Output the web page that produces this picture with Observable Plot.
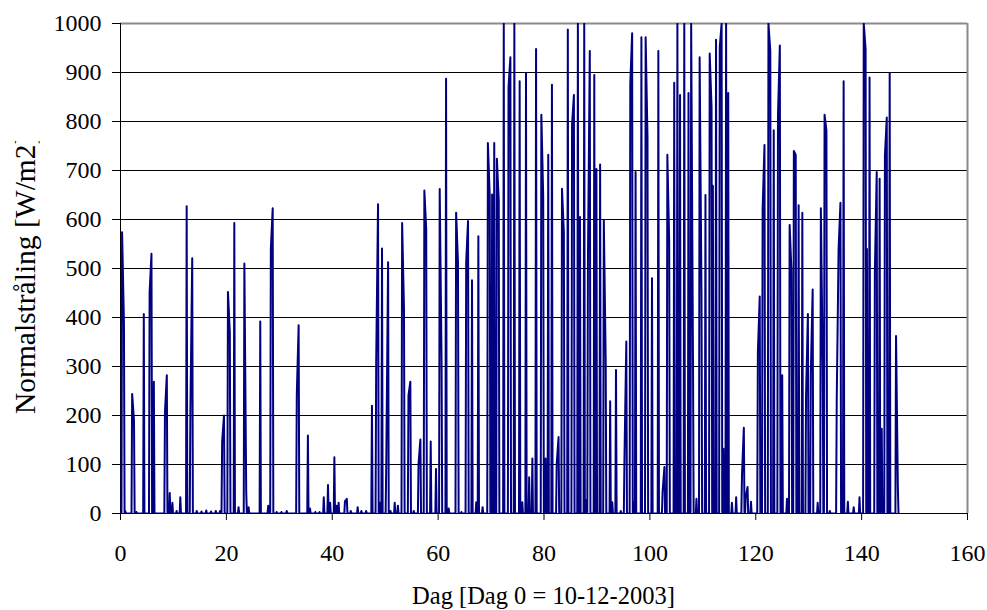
<!DOCTYPE html>
<html>
<head>
<meta charset="utf-8">
<script src="https://cdn.jsdelivr.net/npm/d3@7"></script>
<script src="https://cdn.jsdelivr.net/npm/@observablehq/plot@0.6"></script>
<style>
  html, body { margin: 0; padding: 0; background: #fff; }
  #chart { width: 987px; height: 610px; }
</style>
</head>
<body>
<div id="chart"></div>
<script>
// Axis ticks
const xTicks = [0, 20, 40, 60, 80, 100, 120, 140, 160];
const yTicks = [0, 100, 200, 300, 400, 500, 600, 700, 800, 900, 1000];

// Day on which each burst of daylight readings starts (days after 10-12-2003)
const burstDay = [
  0.3, 0.9, 2.2, 3.0, 4.4, 5.5, 6.3, 8.4, 9.3, 9.8, 10.6, 11.3, 12.5, 13.2,
  14.4, 15.3, 16.2, 17.1, 18.0, 18.8, 19.2, 20.3, 21.5, 22.3, 23.4, 24.2,
  26.4, 27.9, 28.4, 29.5, 30.4, 31.4, 33.3, 35.4, 35.8, 36.8, 37.6, 38.4,
  39.2, 39.6, 40.4, 40.8, 41.2, 42.4, 43.5, 44.8, 45.5, 46.4, 47.5, 48.3,
  49.0, 49.4, 50.2, 51.0, 51.8, 52.4, 53.2, 54.4, 55.4, 56.3, 57.4, 58.6,
  59.6, 60.3, 61.5, 62.0, 63.4, 64.4, 65.3, 66.4, 67.2, 67.6, 68.4, 69.4,
  70.2, 70.6, 71.1, 72.4, 73.3, 74.4, 75.4, 75.9, 76.6, 77.2, 77.8, 78.5,
  79.5, 80.3, 80.8, 81.5, 82.4, 83.4, 84.5, 85.3, 86.4, 86.8, 87.6, 87.95,
  88.3, 89.5, 89.9, 90.6, 91.3, 92.5, 92.9, 93.6, 94.5, 95.2, 96.3, 97.0,
  97.3, 98.4, 99.2, 100.4, 101.6, 102.4, 103.3, 104.6, 105.2, 105.7, 106.5,
  107.3, 107.8, 108.8, 109.4, 110.5, 111.3, 111.9, 112.5, 113.2, 113.9,
  114.4, 114.8, 115.5, 116.3, 117.4, 118.1, 119.1, 120.4, 121.3, 122.4,
  123.4, 124.2, 125.0, 125.9, 126.4, 127.2, 128.1, 128.8, 129.5, 130.4,
  131.7, 132.3, 133.0, 134.0, 135.3, 136.6, 137.4, 138.5, 139.6, 140.4,
  141.0, 141.5, 142.5, 143.4, 143.8, 144.4, 145.3, 146.5
];

// Normal radiation readings [W/m2] within each burst
const burstW = [
  [574, 390], [5], [244, 190], [3], [407], [452, 530], [269], [207, 282], [42], [22], [5], [33], [627], [207, 521],
  [5], [4], [6], [4], [5], [5], [147, 200], [452, 370], [593], [13], [510, 44], [13],
  [392], [16], [540, 623], [3], [3], [5], [241, 384], [159], [10], [3], [3], [33],
  [58], [22], [115], [16], [22], [25, 30], [5], [13], [5], [5], [220], [309, 631],
  [22], [541], [98, 513], [5], [22], [16], [593, 418], [241, 269], [5], [101, 151], [659, 581], [147],
  [91], [662, 309], [887], [10], [614, 513], [3], [513, 597], [476], [23], [566], [13], [756, 649],
  [651], [756], [724, 639], [1000], [871, 931], [1000], [882], [23], [899], [74], [112], [948],
  [814, 647], [112], [732], [875], [101, 156], [663, 574], [988], [795, 854], [1000], [605], [1000], [27],
  [513, 944], [895], [703], [712], [598, 317], [229], [23], [293], [5], [112, 351], [877, 980], [23],
  [697], [972], [972, 769], [480], [944], [44, 95], [732, 554], [879], [1000], [854], [1000],
  [858], [1000, 302], [30], [931, 446], [650], [939, 829], [669], [967], [952, 1000], [132],
  [1000], [858], [22], [33], [78, 175], [33, 54], [24], [329, 443], [622, 752], [1000, 944],
  [782], [812, 955], [282], [30], [589, 493], [740, 732], [629], [614], [241, 407], [285, 457],
  [22], [623, 302], [814, 782], [5], [234, 540, 634], [882], [24], [13], [33], [1000, 948],
  [540], [890], [493, 697], [683], [173], [731, 808], [899], [362, 50]
];

// Hourly-ish step between readings inside a burst, and the night gap on each side
const step = 0.35, edge = 0.12;

const series = [{t: 0, w: 0}];
burstDay.forEach((d, i) => {
  const r = burstW[i];
  series.push({t: d - edge, w: 0});
  r.forEach((w, k) => series.push({t: d + k * step, w}));
  series.push({t: d + (r.length - 1) * step + edge, w: 0});
});
series.push({t: 147, w: 0});

const grid = yTicks.filter(v => v > 0 && v < 1000);

const chart = Plot.plot({
  width: 987,
  height: 610,
  marginLeft: 120,
  marginRight: 20,
  marginTop: 23,
  marginBottom: 97,
  style: {fontFamily: "'Liberation Serif', 'Times New Roman', serif", fontSize: "24px", color: "#000", background: "#fff", overflow: "visible"},
  x: {domain: [0, 160]},
  y: {domain: [0, 1000]},
  marks: [
    Plot.ruleY(grid, {stroke: "#000", strokeWidth: 1}),
    Plot.ruleY([1000], {stroke: "#8a8a8a", strokeWidth: 2}),
    Plot.ruleX([160], {stroke: "#8a8a8a", strokeWidth: 2}),
    Plot.ruleY([0], {stroke: "#000", strokeWidth: 1}),
    Plot.ruleX([0], {stroke: "#000", strokeWidth: 1}),
    Plot.line(series, {x: "t", y: "w", stroke: "#000080", strokeWidth: 2, strokeLinejoin: "round", clip: true}),
    Plot.axisY({ticks: yTicks, tickSize: 8, tickPadding: 11, tickFormat: "d", fontSize: 24, label: null}),
    Plot.axisX({ticks: xTicks, tickSize: 7, tickPadding: 23, tickFormat: "d", fontSize: 24, label: null})
  ]
});

const svg = d3.select(chart);

// Axis titles
svg.append("text")
  .attr("x", 543.5)
  .attr("y", 604)
  .attr("text-anchor", "middle")
  .style("font-size", "24.5px")
  .attr("fill", "#000")
  .text("Dag [Dag 0 = 10-12-2003]");

svg.append("clipPath").attr("id", "ylabel-clip")
  .append("rect").attr("x", 0).attr("y", 141).attr("width", 60).attr("height", 400);

svg.append("g").attr("clip-path", "url(#ylabel-clip)")
  .append("text")
  .attr("transform", "translate(35,414) rotate(-90)")
  .attr("text-anchor", "start")
  .style("font-size", "29.5px")
  .attr("fill", "#000")
  .text("Normalstråling [W/m2]");

document.getElementById("chart").append(chart);
</script>
</body>
</html>
